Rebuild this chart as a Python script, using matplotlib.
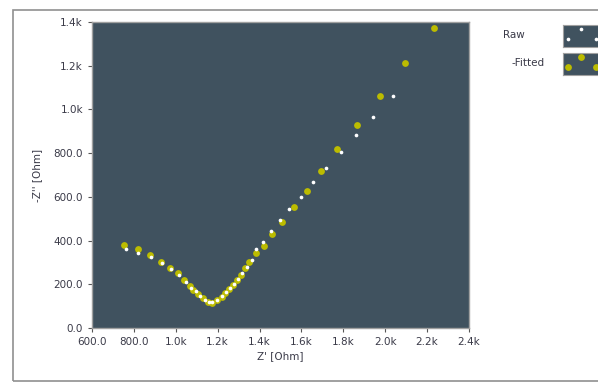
import numpy as np
import matplotlib.pyplot as plt
from matplotlib.patches import Rectangle

# impedance data (ohm)
raw_re = [761, 821, 880, 933, 976, 1015, 1049, 1075, 1095, 1118, 1140, 1160, 1175,
          1198, 1222, 1240, 1260, 1280, 1297, 1316, 1340, 1362, 1383, 1415, 1456,
          1498, 1542, 1598, 1655, 1717, 1787, 1860, 1940, 2036]
raw_im = [361, 342, 326, 296, 270, 242, 212, 185, 167, 148, 130, 120, 118,
          130, 146, 163, 182, 202, 225, 250, 280, 312, 360, 393, 442,
          493, 546, 601, 669, 731, 805, 883, 964, 1061]

fit_re = [753, 818, 877, 928, 972, 1012, 1039, 1068, 1084, 1108, 1131, 1155, 1171,
          1195, 1219, 1235, 1256, 1275, 1291, 1310, 1330, 1350, 1383, 1423, 1461,
          1507, 1564, 1628, 1693, 1772, 1867, 1974, 2094, 2231]
fit_im = [380, 361, 334, 303, 276, 250, 220, 192, 174, 156, 136, 120, 113,
          128, 143, 159, 177, 197, 220, 242, 273, 303, 342, 375, 430,
          485, 552, 628, 718, 819, 927, 1061, 1211, 1374]

x_ticks = [600, 800, 1000, 1200, 1400, 1600, 1800, 2000, 2200, 2400]
x_labels = ['600.0', '800.0', '1.0k', '1.2k', '1.4k', '1.6k', '1.8k', '2.0k', '2.2k', '2.4k']
y_ticks = [0, 200, 400, 600, 800, 1000, 1200, 1400]
y_labels = ['0.0', '200.0', '400.0', '600.0', '800.0', '1.0k', '1.2k', '1.4k']

bg = '#40525f'
yellow = '#bcbc00'
txt = '#3a3a48'

fig = plt.figure(figsize=(5.98, 3.83), dpi=100)
fig.patches.append(Rectangle((13/598, 2/383), 1.0, 371/383, transform=fig.transFigure,
                             fill=False, edgecolor='#909090', linewidth=1.2))

ax = fig.add_axes([92/598, 1 - 328/383, 377/598, 306/383])
ax.set_facecolor(bg)
ax.scatter(fit_re, fit_im, s=24, color=yellow, linewidths=0, zorder=2)
ax.scatter(raw_re, raw_im, s=7, color='white', linewidths=0, zorder=3)
ax.set_xlim(600, 2400)
ax.set_ylim(0, 1400)
ax.set_xticks(x_ticks)
ax.set_xticklabels(x_labels)
ax.set_yticks(y_ticks)
ax.set_yticklabels(y_labels)
ax.tick_params(labelsize=7.5, colors='#555555', labelcolor=txt, length=3, width=0.8)
for s in ax.spines.values():
    s.set_color('#a0a0a0')
    s.set_linewidth(1)
ax.set_xlabel("Z' [Ohm]", fontsize=7.5, color=txt, labelpad=3)
ax.set_ylabel("-Z'' [Ohm]", fontsize=7.5, color=txt, labelpad=8)

# legend swatches
sw_x = [0.12, 0.45, 0.82]
sw_y = [0.35, 0.8, 0.35]
for i, (name, col, size, tx) in enumerate([('Raw', 'white', 7, 503), ('-Fitted', yellow, 24, 512)]):
    top = [25, 53][i]
    sw = fig.add_axes([563/598, 1 - (top + 22)/383, 40/598, 22/383])
    sw.set_facecolor(bg)
    sw.scatter(sw_x, sw_y, s=size, color=col, linewidths=0)
    sw.set_xlim(0, 1)
    sw.set_ylim(0, 1)
    sw.set_xticks([])
    sw.set_yticks([])
    for s in sw.spines.values():
        s.set_color('#a0a0a0')
    fig.text(tx/598, 1 - (top + 10)/383, name, fontsize=7.5, color=txt, va='center')

fig.savefig('out.png', dpi=100)
